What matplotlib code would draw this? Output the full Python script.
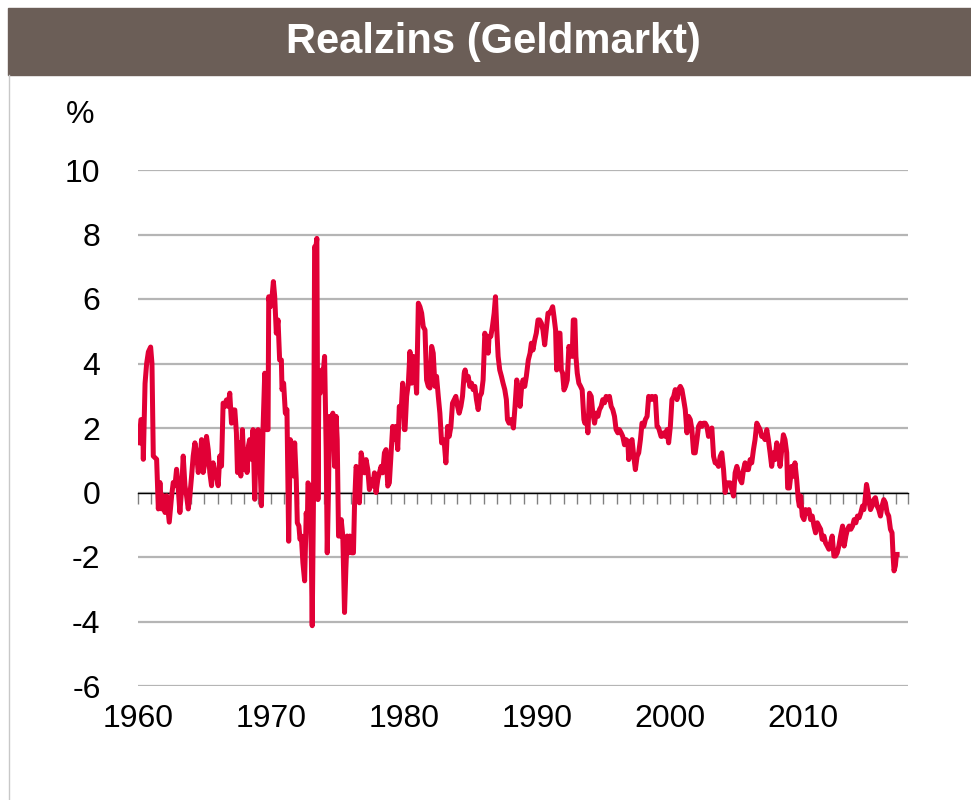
import numpy as np
import matplotlib
matplotlib.use("Agg")
import matplotlib.pyplot as plt
from matplotlib.patches import Rectangle
from matplotlib.lines import Line2D

plt.rcParams['font.family'] = ['Liberation Sans', 'DejaVu Sans']
plt.rcParams['axes.unicode_minus'] = False

yrs_60s = [1960.08, 1960.22, 1960.35, 1960.4, 1960.53, 1960.65, 1960.78, 1960.95, 1961.05, 1961.15,
           1961.4, 1961.53, 1961.65, 1961.78, 1961.9, 1962.03, 1962.15, 1962.35, 1962.53, 1962.65,
           1962.78, 1962.9, 1963.03, 1963.15, 1963.28, 1963.4, 1963.53, 1963.65, 1963.78, 1963.9,
           1964.03, 1964.15, 1964.28, 1964.4, 1964.53, 1964.65, 1964.78, 1964.9, 1965.03, 1965.15,
           1965.28, 1965.4, 1965.53, 1965.65, 1965.78, 1965.9, 1966.03, 1966.15, 1966.28, 1966.4,
           1966.53, 1966.65, 1966.78, 1966.9, 1967.03, 1967.15, 1967.28, 1967.4, 1967.48, 1967.6,
           1967.73, 1967.85, 1967.98, 1968.1, 1968.2, 1968.3, 1968.4, 1968.53, 1968.65, 1968.78,
           1968.9, 1969.03, 1969.15, 1969.28, 1969.4]
val_60s = [1.54, 2.26, 2.26, 1.03, 3.38, 4.0, 4.36, 4.51, 4.0, 1.13,
           1.03, -0.51, 0.31, -0.51, -0.1, -0.62, -0.1, -0.92, -0.1, 0.31,
           0.21, 0.72, 0.1, -0.62, 0.1, 1.13, 0.21, -0.1, -0.51, -0.1,
           0.51, 1.13, 1.54, 1.23, 0.62, 0.92, 1.64, 0.62, 0.92, 1.74,
           1.33, 0.62, 0.21, 0.92, 0.62, 0.51, 0.21, 1.13, 0.82, 2.77,
           2.67, 2.87, 2.67, 3.08, 2.15, 2.56, 2.56, 1.85, 0.62, 1.54,
           0.51, 1.95, 0.72, 1.33, 0.62, 1.44, 1.64, 1.03, 1.95, -0.21,
           1.85, 1.95, 1.23, -0.41, 1.95]

yrs_70s = [1969.53, 1969.65, 1969.78, 1969.83, 1969.95, 1970.08, 1970.18, 1970.28, 1970.4, 1970.53,
           1970.65, 1970.78, 1970.83, 1970.95, 1971.08, 1971.2, 1971.33, 1971.45, 1971.58, 1971.7,
           1971.78, 1971.9, 1971.98, 1972.1, 1972.18, 1972.28, 1972.4, 1972.53, 1972.65, 1972.73,
           1972.78, 1972.9, 1973.03, 1973.1, 1973.2, 1973.28, 1973.35, 1973.45, 1973.53, 1973.6,
           1973.7, 1973.83, 1973.93, 1974.03, 1974.15, 1974.23, 1974.33, 1974.4, 1974.53, 1974.65,
           1974.78, 1974.9, 1974.98, 1975.08, 1975.18, 1975.28, 1975.4, 1975.53, 1975.63, 1975.73,
           1975.85, 1975.93, 1976.08, 1976.2, 1976.28, 1976.4, 1976.53, 1976.65, 1976.78, 1976.9,
           1977.03, 1977.15, 1977.28, 1977.4, 1977.53, 1977.65, 1977.78, 1977.9, 1978.03, 1978.15,
           1978.28, 1978.4, 1978.53, 1978.65, 1978.78, 1978.9, 1979.03, 1979.15, 1979.28, 1979.4,
           1979.53, 1979.65, 1979.78, 1979.9]
val_70s = [3.7, 1.95, 1.95, 6.07, 5.76, 6.07, 6.54, 6.07, 4.94, 5.35,
           4.11, 4.11, 3.19, 3.39, 2.46, 2.57, -1.51, 1.64, 1.43, 0.51,
           1.54, 0.4, -0.94, -1.04, -1.45, -1.35, -2.18, -2.74, -0.63, -1.14,
           0.3, 0.2, -1.87, -4.13, 0.0, 7.62, 7.52, 7.88, -0.22, 3.29,
           3.08, 3.8, 3.7, 4.22, 1.33, -1.87, 0.2, 2.36, 1.85, 2.46,
           0.81, 2.36, 1.64, -1.35, -1.35, -0.84, -1.35, -3.72, -2.38, -1.35,
           -1.87, -1.35, -1.87, -1.87, -0.42, 0.81, 0.61, -0.32, 1.23, 0.92,
           0.61, 1.02, 0.71, 0.09, 0.4, 0.2, 0.61, 0.0, 0.4, 0.61,
           0.81, 0.61, 1.23, 1.33, 0.2, 0.3, 1.23, 2.05, 1.64, 2.05,
           1.33, 2.67, 2.46, 3.39]

yrs_80s = [1980.03, 1980.08, 1980.2, 1980.33, 1980.45, 1980.58, 1980.7, 1980.83, 1980.95, 1981.08,
           1981.2, 1981.33, 1981.45, 1981.58, 1981.7, 1981.83, 1981.95, 1982.08, 1982.2, 1982.33,
           1982.45, 1982.58, 1982.7, 1982.83, 1982.95, 1983.03, 1983.15, 1983.28, 1983.4, 1983.53,
           1983.65, 1983.78, 1983.9, 1984.03, 1984.15, 1984.28, 1984.4, 1984.53, 1984.6, 1984.73,
           1984.83, 1984.95, 1985.08, 1985.2, 1985.33, 1985.45, 1985.58, 1985.7, 1985.83, 1985.95,
           1986.08, 1986.2, 1986.33, 1986.4, 1986.53, 1986.65, 1986.78, 1986.88, 1986.98, 1987.08,
           1987.2, 1987.33, 1987.45, 1987.58, 1987.7, 1987.78, 1987.9, 1988.03, 1988.15, 1988.23,
           1988.35, 1988.48, 1988.6, 1988.73, 1988.83, 1988.95, 1989.08, 1989.2, 1989.35, 1989.48,
           1989.58, 1989.7, 1989.83, 1989.95]
val_80s = [1.95, 1.95, 2.98, 3.39, 4.37, 3.39, 4.22, 3.8, 3.08, 5.87,
           5.76, 5.56, 5.14, 5.04, 3.49, 3.29, 3.24, 4.53, 4.32, 3.29,
           3.6, 2.98, 2.46, 1.54, 1.64, 1.54, 0.92, 2.05, 1.74, 2.05,
           2.77, 2.88, 2.98, 2.67, 2.46, 2.67, 2.98, 3.7, 3.8, 3.49,
           3.6, 3.29, 3.39, 3.19, 3.29, 2.88, 2.57, 2.98, 3.08, 3.49,
           4.94, 4.73, 4.32, 4.84, 4.84, 5.14, 5.56, 6.07, 5.04, 4.22,
           3.8, 3.6, 3.39, 3.19, 2.88, 2.26, 2.15, 2.26, 2.15, 2.0,
           2.67, 3.49, 3.19, 2.67, 3.19, 3.49, 3.29, 3.6, 4.11, 4.32,
           4.63, 4.42, 4.73, 4.94]

yrs_90s = [1990.08, 1990.2, 1990.33, 1990.45, 1990.58, 1990.7, 1990.83, 1990.95, 1991.08, 1991.18,
           1991.28, 1991.4, 1991.48, 1991.6, 1991.73, 1991.83, 1991.93, 1992.03, 1992.15, 1992.28,
           1992.4, 1992.53, 1992.65, 1992.73, 1992.85, 1992.93, 1993.03, 1993.15, 1993.28, 1993.4,
           1993.53, 1993.6, 1993.73, 1993.83, 1993.95, 1994.08, 1994.2, 1994.33, 1994.45, 1994.58,
           1994.7, 1994.83, 1994.95, 1995.08, 1995.2, 1995.33, 1995.45, 1995.58, 1995.7, 1995.83,
           1995.95, 1996.08, 1996.2, 1996.33, 1996.45, 1996.58, 1996.7, 1996.83, 1996.9, 1997.03,
           1997.15, 1997.28, 1997.4, 1997.53, 1997.65, 1997.78, 1997.9, 1998.03, 1998.15, 1998.28,
           1998.4, 1998.53, 1998.65, 1998.78, 1998.9, 1999.03, 1999.15, 1999.33, 1999.4, 1999.53,
           1999.65, 1999.78, 1999.9]
val_90s = [5.35, 5.35, 5.25, 5.04, 4.58, 5.04, 5.56, 5.56, 5.66, 5.76,
           5.45, 5.04, 3.8, 4.94, 4.94, 3.8, 3.7, 3.18, 3.29, 3.49,
           4.53, 4.32, 4.22, 5.35, 5.35, 4.22, 3.7, 3.39, 3.29, 3.18,
           2.26, 2.15, 2.36, 1.85, 3.08, 2.98, 2.46, 2.15, 2.46, 2.36,
           2.57, 2.67, 2.88, 2.78, 2.98, 2.88, 2.98, 2.67, 2.57, 2.36,
           1.95, 1.85, 1.95, 1.85, 1.74, 1.48, 1.64, 1.59, 1.02, 1.54,
           1.64, 1.12, 0.71, 1.12, 1.23, 1.64, 2.15, 2.05, 2.26, 2.36,
           2.98, 2.88, 2.98, 2.88, 2.98, 2.05, 2.0, 1.74, 1.74, 1.85,
           1.74, 1.95, 1.54]

yrs_00s = [2000.03, 2000.15, 2000.28, 2000.4, 2000.53, 2000.65, 2000.78, 2000.9, 2001.03, 2001.15,
           2001.28, 2001.4, 2001.53, 2001.65, 2001.78, 2001.9, 2002.03, 2002.15, 2002.28, 2002.4,
           2002.53, 2002.65, 2002.78, 2002.9, 2003.03, 2003.15, 2003.28, 2003.4, 2003.53, 2003.65,
           2003.78, 2003.9, 2004.03, 2004.15, 2004.28, 2004.4, 2004.53, 2004.65, 2004.78, 2004.9,
           2005.03, 2005.15, 2005.28, 2005.4, 2005.53, 2005.65, 2005.78, 2005.9, 2006.03, 2006.15,
           2006.28, 2006.4, 2006.53, 2006.65, 2006.78, 2006.9, 2007.03, 2007.15, 2007.28, 2007.4,
           2007.53, 2007.65, 2007.78, 2007.9, 2008.03, 2008.15, 2008.28, 2008.4, 2008.53, 2008.65,
           2008.78, 2008.85, 2008.98, 2009.08, 2009.15, 2009.28, 2009.4, 2009.53, 2009.65, 2009.73,
           2009.83, 2009.95]
val_00s = [2.05, 2.88, 2.98, 3.19, 2.88, 3.19, 3.29, 3.19, 2.88, 2.57,
           1.85, 2.36, 2.26, 1.95, 1.23, 1.23, 1.64, 2.05, 2.15, 2.05,
           2.15, 2.15, 2.05, 1.74, 1.85, 2.0, 1.12, 0.92, 0.92, 0.81,
           1.12, 1.23, 0.71, 0.0, 0.3, 0.3, 0.3, 0.09, -0.11, 0.61,
           0.81, 0.61, 0.4, 0.3, 0.71, 0.92, 0.71, 0.71, 1.02, 0.92,
           1.33, 1.64, 2.15, 2.05, 1.95, 1.74, 1.74, 1.64, 1.95, 1.64,
           1.23, 0.81, 1.23, 1.02, 1.54, 1.33, 0.81, 1.3, 1.79, 1.64,
           1.23, 0.14, 0.14, 0.5, 0.81, 0.5, 0.92, 0.4, -0.22, -0.42,
           -0.11, -0.73]

yrs_10s = [2010.08, 2010.2, 2010.33, 2010.45, 2010.58, 2010.7, 2010.83, 2010.95, 2011.08, 2011.2,
           2011.33, 2011.45, 2011.58, 2011.7, 2011.83, 2011.95, 2012.08, 2012.2, 2012.33, 2012.45,
           2012.58, 2012.7, 2012.83, 2012.98, 2013.1, 2013.23, 2013.35, 2013.48, 2013.6, 2013.73,
           2013.85, 2013.98, 2014.1, 2014.23, 2014.35, 2014.48, 2014.58, 2014.65, 2014.78, 2014.85,
           2014.98, 2015.08, 2015.2, 2015.33, 2015.45, 2015.58, 2015.7, 2015.83, 2015.95, 2016.08,
           2016.2, 2016.33, 2016.45, 2016.58, 2016.7, 2016.78, 2016.85, 2016.95, 2017.03, 2017.08]
val_10s = [-0.84, -0.53, -0.63, -0.53, -0.84, -0.73, -1.04, -1.25, -0.94, -1.04,
           -1.14, -1.45, -1.35, -1.56, -1.66, -1.76, -1.56, -1.35, -1.97, -1.97,
           -1.87, -1.66, -1.35, -1.04, -1.66, -1.35, -1.14, -1.04, -1.14, -1.04,
           -0.84, -0.94, -0.73, -0.78, -0.63, -0.42, -0.53, -0.32, 0.25, 0.09,
           -0.32, -0.53, -0.42, -0.22, -0.16, -0.42, -0.53, -0.73, -0.42, -0.22,
           -0.32, -0.63, -0.73, -1.14, -1.25, -1.97, -2.43, -2.27, -1.92, -1.92]

years = yrs_60s + yrs_70s + yrs_80s + yrs_90s + yrs_00s + yrs_10s
values = val_60s + val_70s + val_80s + val_90s + val_00s + val_10s

year_labels = [1960, 1970, 1980, 1990, 2000, 2010]
y_ticks = [-6, -4, -2, 0, 2, 4, 6, 8, 10]

fig = plt.figure(figsize=(9.71, 8), dpi=100)

# brown title bar and thin frame line on the left
fig.patches.append(Rectangle((8 / 971, 1 - 75 / 800), 1 - 8 / 971, 67 / 800,
                             transform=fig.transFigure, color='#6b5e57', zorder=0))
fig.add_artist(Line2D([8.5 / 971, 8.5 / 971], [0, 1 - 75 / 800],
                      transform=fig.transFigure, color='#c8c8c8', lw=1))
fig.text(493 / 971, 1 - 42 / 800, 'Realzins (Geldmarkt)', ha='center', va='center',
         color='white', fontsize=30, fontweight='bold')

ax = fig.add_axes([138 / 971, 1 - 686 / 800, 770 / 971, 516 / 800])
ax.plot(years, values, color='#e10036', lw=3.6, solid_joinstyle='round', zorder=3)

ax.set_xlim(1960, 2017.9)
ax.set_ylim(-6, 10)
ax.set_yticks(y_ticks)
ax.set_axisbelow(True)
ax.grid(axis='y', color='#b5b5b5', lw=1.6)

for s in ['left', 'right', 'top']:
    ax.spines[s].set_visible(False)
ax.spines['bottom'].set_position(('data', 0))
ax.spines['bottom'].set_color('black')
ax.spines['bottom'].set_linewidth(1)

ax.set_xticks(list(np.arange(1960, 2018)) + [2017.9])
ax.tick_params(axis='x', direction='out', length=8, width=1, color='#808080', labelbottom=False)
ax.tick_params(axis='y', length=0, pad=27, labelsize=23)

sec = ax.secondary_xaxis(0)
sec.set_xticks(year_labels)
sec.tick_params(length=0, pad=13, labelsize=23)
sec.spines['bottom'].set_visible(False)

fig.text(80 / 971, 1 - 115 / 800, '%', ha='center', va='center', fontsize=23)

plt.savefig('out.png', dpi=100)
